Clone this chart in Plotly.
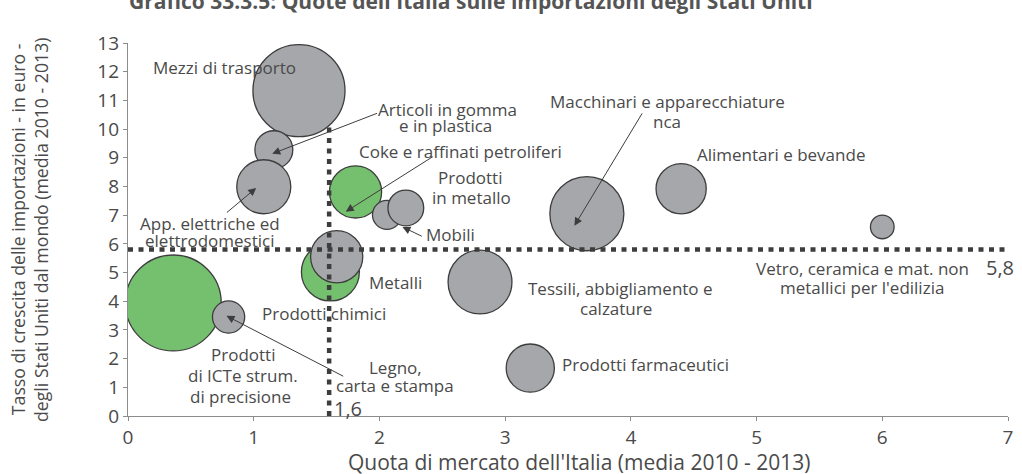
import plotly.graph_objects as go

# ---- data ----
settori = [
    "Mezzi di trasporto", "Articoli in gomma e in plastica", "App. elettriche ed elettrodomestici",
    "Coke e raffinati petroliferi", "Mobili", "Prodotti in metallo", "Metalli", "Prodotti chimici",
    "Prodotti di ICT e strum. di precisione", "Legno, carta e stampa", "Tessili, abbigliamento e calzature",
    "Prodotti farmaceutici", "Macchinari e apparecchiature nca", "Alimentari e bevande",
    "Vetro, ceramica e mat. non metallici per l'edilizia",
]
quota_mercato = [1.36, 1.16, 1.08, 1.81, 2.06, 2.21, 1.61, 1.66, 0.36, 0.80, 2.80, 3.20, 3.65, 4.40, 6.00]
tasso_crescita = [11.34, 9.28, 7.99, 7.81, 7.01, 7.25, 5.02, 5.55, 3.94, 3.45, 4.67, 1.67, 7.05, 7.92, 6.59]
peso = [21.2, 3.6, 7.3, 6.8, 2.1, 3.2, 8.4, 6.8, 23.0, 2.6, 10.2, 5.8, 13.7, 6.3, 1.4]
evidenziato = [False, False, False, True, False, False, True, False, True, False, False, False, False, False, False]

media_quota = 1.6
media_crescita = 5.8
x_ticks = [0, 1, 2, 3, 4, 5, 6, 7]
y_ticks = list(range(0, 14))

titolo = "Grafico 33.3.5: Quote dell'Italia sulle importazioni degli Stati Uniti"
titolo_x = "Quota di mercato dell'Italia (media 2010 - 2013)"
titolo_y1 = "Tasso di crescita delle importazioni - in euro -"
titolo_y2 = "degli Stati Uniti dal mondo (media 2010 - 2013)"

# label lines: (text, x, y)
etichette = [
    ("Mezzi di trasporto", 0.771, 12.14),
    ("Articoli in gomma", 2.545, 10.67),
    ("e in plastica", 2.523, 10.12),
    ("Coke e raffinati petroliferi", 2.642, 9.22),
    ("Prodotti", 2.721, 8.30),
    ("in metallo", 2.733, 7.60),
    ("Mobili", 2.567, 6.31),
    ("App. elettriche ed", 0.652, 6.70),
    ("elettrodomestici", 0.652, 6.11),
    ("Metalli", 2.124, 4.65),
    ("Prodotti chimici", 1.558, 3.58),
    ("Prodotti", 0.918, 2.13),
    ("di ICTe strum.", 0.914, 1.40),
    ("di precisione", 0.898, 0.67),
    ("Legno,", 2.128, 1.69),
    ("carta e stampa", 2.12, 1.06),
    ("Macchinari e apparecchiature", 4.295, 10.96),
    ("nca", 4.29, 10.27),
    ("Alimentari e bevande", 5.193, 9.10),
    ("Vetro, ceramica e mat. non", 5.845, 5.15),
    ("metallici per l'edilizia", 5.837, 4.49),
    ("Tessili, abbigliamento e", 3.919, 4.45),
    ("calzature", 3.88, 3.76),
    ("Prodotti farmaceutici", 4.113, 1.78),
]
# arrows: (tail x, tail y, head x, head y)
frecce = [
    (1.993, 10.57, 1.147, 9.14),
    (2.436, 9.07, 1.732, 7.12),
    (2.349, 6.24, 2.183, 6.59),
    (0.775, 7.05, 1.020, 7.95),
    (1.724, 1.36, 0.783, 3.49),
    (4.097, 10.60, 3.551, 6.63),
]

# ---- styles ----
GRAY = "#a6a7ab"
GREEN = "#74c06f"
DARK = "#3d3d3d"
TXT = "#4a4a4a"
FONT = "Open Sans"

colori = [GREEN if e else GRAY for e in evidenziato]

fig = go.Figure()
fig.add_trace(go.Scatter(
    x=quota_mercato, y=tasso_crescita, mode="markers", text=settori,
    marker=dict(size=peso, sizemode="area", sizeref=0.005, color=colori,
                opacity=1, line=dict(color=DARK, width=1.3)),
    hoverinfo="text", showlegend=False,
))

dot = dict(color=DARK, width=4.5, dash="5px,5.5px")
fig.add_shape(type="line", xref="x", yref="y", x0=media_quota, x1=media_quota, y0=0, y1=10.1,
              line=dot, layer="above")
fig.add_shape(type="line", xref="x", yref="y", x0=0, x1=7, y0=media_crescita, y1=media_crescita,
              line=dot, layer="above")

for t, x, y in etichette:
    fig.add_annotation(x=x, y=y, xref="x", yref="y", text=t, showarrow=False,
                       font=dict(family=FONT, size=17, color=TXT), align="center")

fig.add_annotation(x=6.933, y=5.19, xref="x", yref="y", text=str(media_crescita).replace(".", ","),
                   showarrow=False, font=dict(family=FONT, size=20, color=TXT))
fig.add_annotation(x=1.748, y=0.27, xref="x", yref="y", text=str(media_quota).replace(".", ","),
                   showarrow=False, font=dict(family=FONT, size=20, color=TXT))

for ax, ay, hx, hy in frecce:
    fig.add_annotation(x=hx, y=hy, ax=ax, ay=ay, xref="x", yref="y", axref="x", ayref="y",
                       text="", showarrow=True, arrowhead=2, arrowsize=1.6, arrowwidth=1,
                       arrowcolor=DARK, standoff=0, startstandoff=0)

# titles
fig.add_annotation(x=(473 - 128) / 885, y=(416 - 1) / 373, xref="paper", yref="paper",
                   text="<b>" + titolo + "</b>",
                   showarrow=False, xanchor="center", yanchor="middle",
                   font=dict(family=FONT, size=21, color="#555555"))
fig.add_annotation(x=(581.5 - 128) / 885, y=(416 - 462) / 373, xref="paper", yref="paper", text=titolo_x,
                   showarrow=False, xanchor="center", yanchor="middle",
                   font=dict(family=FONT, size=21, color=TXT))
fig.add_annotation(x=(17 - 128) / 885, y=0.5, xref="paper", yref="paper", text=titolo_y1,
                   showarrow=False, xanchor="center", yanchor="middle", textangle=-90,
                   font=dict(family=FONT, size=17.7, color=TXT))
fig.add_annotation(x=(40 - 128) / 885, y=0.5, xref="paper", yref="paper", text=titolo_y2,
                   showarrow=False, xanchor="center", yanchor="middle", textangle=-90,
                   font=dict(family=FONT, size=17.7, color=TXT))

axis_common = dict(showgrid=False, zeroline=False, showline=True, linecolor="#8c8c8c",
                   linewidth=1.2, ticks="outside", ticklen=4, tickcolor="#8c8c8c",
                   tickfont=dict(family=FONT, size=19, color=TXT))
fig.update_xaxes(range=[0, 7], tickvals=x_ticks, ticktext=[str(v) for v in x_ticks], **axis_common)
fig.update_yaxes(range=[0, 13], tickvals=y_ticks, ticktext=[str(v) for v in y_ticks], **axis_common)

fig.update_layout(
    width=1022, height=474,
    margin=dict(l=128, r=9, t=43, b=58),
    plot_bgcolor="white", paper_bgcolor="white",
    font=dict(family=FONT, color=TXT),
)

fig.write_html("out.html", config={"displayModeBar": False},
               post_script="document.body.style.margin='0';document.body.style.overflow='hidden';")
